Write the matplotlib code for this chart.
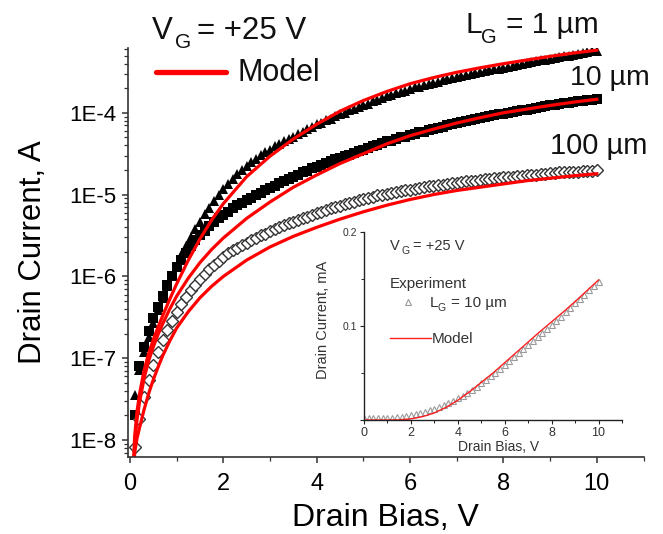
import numpy as np
import matplotlib
matplotlib.use("Agg")
import matplotlib.pyplot as plt
from matplotlib.lines import Line2D
from matplotlib.ticker import FixedLocator, LogLocator, NullFormatter, FuncFormatter, MultipleLocator

plt.rcParams['font.family'] = ['Liberation Sans', 'DejaVu Sans']
plt.rcParams['mathtext.default'] = 'regular'

# drain bias grid of the measured points, V
bias = np.round(np.arange(1, 101) * 0.1, 1)

# measured drain current, log10(A), V_G = +25 V
log_i_1um = [-7.45, -7.15, -6.93, -6.74, -6.57, -6.41, -6.26, -6.12, -5.99, -5.86,
             -5.74, -5.63, -5.52, -5.42, -5.33, -5.24, -5.16, -5.08, -5.00, -4.93,
             -4.87, -4.81, -4.75, -4.70, -4.65, -4.60, -4.56, -4.52, -4.48, -4.45,
             -4.41, -4.38, -4.35, -4.32, -4.29, -4.26, -4.23, -4.20, -4.17, -4.14,
             -4.12, -4.09, -4.07, -4.04, -4.02, -4.00, -3.97, -3.95, -3.93, -3.91,
             -3.89, -3.86, -3.84, -3.82, -3.80, -3.78, -3.76, -3.75, -3.73, -3.71,
             -3.69, -3.68, -3.66, -3.65, -3.63, -3.62, -3.60, -3.59, -3.57, -3.56,
             -3.55, -3.54, -3.52, -3.51, -3.50, -3.49, -3.48, -3.47, -3.46, -3.45,
             -3.44, -3.43, -3.41, -3.40, -3.39, -3.38, -3.37, -3.36, -3.35, -3.34,
             -3.33, -3.32, -3.31, -3.30, -3.29, -3.28, -3.27, -3.26, -3.25, -3.24]

log_i_10um = [-7.70, -7.10, -6.86, -6.67, -6.51, -6.37, -6.24, -6.11, -5.99, -5.89,
              -5.80, -5.71, -5.63, -5.56, -5.50, -5.44, -5.39, -5.34, -5.29, -5.25,
              -5.21, -5.17, -5.13, -5.10, -5.07, -5.04, -5.01, -4.98, -4.95, -4.92,
              -4.89, -4.86, -4.83, -4.81, -4.78, -4.76, -4.73, -4.71, -4.68, -4.66,
              -4.64, -4.61, -4.59, -4.57, -4.55, -4.53, -4.51, -4.49, -4.47, -4.45,
              -4.43, -4.41, -4.39, -4.37, -4.35, -4.34, -4.32, -4.30, -4.29, -4.27,
              -4.26, -4.24, -4.23, -4.21, -4.20, -4.18, -4.17, -4.15, -4.14, -4.13,
              -4.11, -4.10, -4.09, -4.08, -4.06, -4.05, -4.04, -4.03, -4.02, -4.01,
              -4.00, -3.99, -3.98, -3.97, -3.96, -3.95, -3.94, -3.93, -3.92, -3.91,
              -3.90, -3.89, -3.88, -3.875, -3.87, -3.86, -3.85, -3.845, -3.84, -3.835]

log_i_100um = [-8.09, -7.74, -7.48, -7.27, -7.08, -6.92, -6.78, -6.65, -6.54, -6.44,
               -6.34, -6.25, -6.17, -6.10, -6.03, -5.97, -5.91, -5.86, -5.81, -5.76,
               -5.72, -5.68, -5.65, -5.62, -5.59, -5.56, -5.53, -5.50, -5.48, -5.45,
               -5.42, -5.40, -5.37, -5.35, -5.33, -5.31, -5.29, -5.27, -5.25, -5.23,
               -5.21, -5.19, -5.17, -5.15, -5.14, -5.12, -5.10, -5.09, -5.07, -5.06,
               -5.04, -5.03, -5.01, -5.00, -4.99, -4.98, -4.97, -4.96, -4.95, -4.94,
               -4.93, -4.92, -4.91, -4.90, -4.89, -4.885, -4.88, -4.87, -4.86, -4.855,
               -4.85, -4.84, -4.835, -4.83, -4.82, -4.815, -4.81, -4.80, -4.795, -4.79,
               -4.785, -4.78, -4.775, -4.77, -4.765, -4.76, -4.755, -4.75, -4.745, -4.74,
               -4.735, -4.73, -4.73, -4.725, -4.72, -4.72, -4.715, -4.71, -4.71, -4.705]

# model curves, log10(A)
model_bias = [0.05, 0.1, 0.15, 0.2, 0.3, 0.4, 0.5, 0.6, 0.7, 0.85, 1.0, 1.25, 1.5, 1.75,
              2.0, 2.5, 3.0, 3.5, 4.0, 4.5, 5.0, 5.5, 6.0, 6.5, 7.0, 7.5, 8.0, 8.5, 9.0,
              9.5, 10.0]
model_1um = [-8.6, -7.95, -7.65, -7.45, -7.15, -6.94, -6.77, -6.62, -6.48, -6.28, -6.09,
             -5.80, -5.54, -5.31, -5.11, -4.78, -4.53, -4.32, -4.14, -3.98, -3.85, -3.74,
             -3.645, -3.57, -3.505, -3.45, -3.40, -3.355, -3.31, -3.27, -3.235]
model_10um = [-8.7, -8.05, -7.75, -7.55, -7.25, -7.03, -6.86, -6.71, -6.58, -6.40, -6.24,
              -6.02, -5.83, -5.67, -5.53, -5.29, -5.09, -4.91, -4.76, -4.62, -4.50, -4.38,
              -4.28, -4.20, -4.125, -4.06, -4.00, -3.955, -3.91, -3.87, -3.835]
model_100um = [-8.9, -8.15, -7.98, -7.86, -7.63, -7.43, -7.26, -7.11, -6.97, -6.79, -6.63,
               -6.43, -6.26, -6.12, -6.00, -5.80, -5.64, -5.51, -5.40, -5.30, -5.21, -5.13,
               -5.06, -5.00, -4.95, -4.91, -4.87, -4.83, -4.80, -4.77, -4.745]

# inset: linear scale, L_G = 10 um, current in mA
inset_bias = np.round(np.arange(51) * 0.2, 1)
inset_exp = [0.0018, 0.0018, 0.0019, 0.0020, 0.0021, 0.0023, 0.0026, 0.0030, 0.0035, 0.0042,
             0.0050, 0.0060, 0.0072, 0.0086, 0.0103, 0.0120, 0.0140, 0.0160, 0.0182, 0.0205,
             0.0230, 0.0260, 0.0291, 0.0323, 0.0356, 0.0390, 0.0427, 0.0464, 0.0502, 0.0543,
             0.0585, 0.0627, 0.0670, 0.0713, 0.0756, 0.0800, 0.0842, 0.0884, 0.0926, 0.0968,
             0.1010, 0.1055, 0.1100, 0.1146, 0.1193, 0.1240, 0.1286, 0.1332, 0.1378, 0.1424,
             0.1470]
inset_model_bias = [0, 1.0, 1.5, 2.0, 2.5, 3.0, 3.5, 4.0, 4.5, 5.0, 5.5, 6.0, 6.5, 7.0,
                    7.5, 8.0, 8.5, 9.0, 9.5, 10.0]
inset_model = [0, 0, 0.0002, 0.0012, 0.0036, 0.0075, 0.0135, 0.021, 0.030, 0.040, 0.050,
               0.061, 0.072, 0.083, 0.094, 0.1045, 0.115, 0.126, 0.1375, 0.149]

W, H = 663, 534
fig = plt.figure(figsize=(W / 100, H / 100), dpi=100)


def fx(px):
    return px / W


def fy(py):
    return 1 - py / H


def label(x, y, txt, size, color='#111111'):
    fig.text(fx(x), fy(y), txt, fontsize=size, va='baseline', color=color)


ax = fig.add_axes([0.1926, 0.1442, 0.778, 0.766])

ax.plot(bias, 10 ** np.array(log_i_1um), '^', ms=7, color='black', mew=0)
ax.plot(bias, 10 ** np.array(log_i_10um), 's', ms=6.5, color='black', mew=0)
ax.plot(bias, 10 ** np.array(log_i_100um), 'D', ms=6.5, mfc='white', mec='#333333', mew=1)
for m in (model_1um, model_10um, model_100um):
    ax.plot(model_bias, 10 ** np.array(m), '-', color='#ff0000', lw=2.3)

ax.set_yscale('log')
ax.set_xlim(-0.05, 11)
ax.set_ylim(6.2e-9, 6.2e-4)
for s in ('top', 'right'):
    ax.spines[s].set_visible(False)
for s in ('left', 'bottom'):
    ax.spines[s].set_linewidth(1.2)
    ax.spines[s].set_color('#333333')

ax.yaxis.set_major_locator(FixedLocator([1e-8, 1e-7, 1e-6, 1e-5, 1e-4]))
ax.yaxis.set_major_formatter(FuncFormatter(lambda v, p: '1E%d' % round(np.log10(v))))
ax.yaxis.set_minor_locator(LogLocator(base=10, subs=np.arange(2, 10)))
ax.yaxis.set_minor_formatter(NullFormatter())
ax.xaxis.set_major_locator(FixedLocator([0, 2, 4, 6, 8, 10]))
ax.xaxis.set_minor_locator(FixedLocator([1, 3, 5, 7, 9, 11]))
ax.tick_params(which='major', direction='out', length=4.5, width=1.1, color='#333333')
ax.tick_params(which='minor', direction='out', length=2.8, width=0.9, color='#333333')
ax.tick_params(axis='y', which='major', labelsize=16, pad=4)
ax.tick_params(axis='x', which='major', labelsize=17, pad=7)

ax.set_xlabel('Drain Bias, V', fontsize=23, va='top')
ax.xaxis.set_label_coords(0.5, -0.112)
ax.set_ylabel('Drain Current, A', fontsize=22.5)
ax.yaxis.set_label_coords(-0.155, 0.5)

# annotations, subscripts set as separate lowered pieces
label(152, 39, 'V', 22.5)
label(175, 48, 'G', 15)
label(197, 39, '= +25 V', 22.5)
fig.add_artist(Line2D([fx(156), fx(226)], [fy(72), fy(72)], color='#ff0000', lw=3.8,
                      solid_capstyle='round'))
label(238, 81, 'Model', 22)
label(466, 33, 'L', 21.5)
label(481, 43, 'G', 14.5)
label(506, 33, '= 1 µm', 21.5)
label(570, 85, '10 µm', 20.5)
label(550, 154, '100 µm', 21)

# inset, linear scale
ins = fig.add_axes([fx(364), fy(420), fx(622) - fx(364), fy(232) - fy(420)])
ins.patch.set_alpha(0)
ins.plot(inset_bias, inset_exp, '^', ms=4.5, mfc='none', mec='#9a9a9a', mew=0.8)
ins.plot(inset_model_bias, inset_model, '-', color='#ff2020', lw=1)
ins.set_xlim(0, 11)
ins.set_ylim(0, 0.2)
for s in ('top', 'right'):
    ins.spines[s].set_visible(False)
for s in ('left', 'bottom'):
    ins.spines[s].set_linewidth(1)
    ins.spines[s].set_color('#222222')
ins.xaxis.set_major_locator(FixedLocator([0, 2, 4, 6, 8, 10]))
ins.xaxis.set_minor_locator(MultipleLocator(1))
ins.yaxis.set_major_locator(FixedLocator([0, 0.1, 0.2]))
ins.yaxis.set_major_formatter(FuncFormatter(lambda v, p: '' if v == 0 else '%.1f' % v))
ins.yaxis.set_minor_locator(FixedLocator([0.05, 0.15]))
ins.tick_params(which='major', direction='out', length=3, width=0.8, color='#222222',
                labelcolor='#333333')
ins.tick_params(which='minor', direction='out', length=2, width=0.7, color='#222222')
ins.tick_params(axis='x', labelsize=9, pad=2)
ins.tick_params(axis='y', labelsize=7.5, pad=2)
ins.set_xlabel('Drain Bias, V', fontsize=10, color='#333333', va='top')
ins.xaxis.set_label_coords(0.52, -0.105)
ins.set_ylabel('Drain Current, mA', fontsize=10.5, color='#333333')
ins.yaxis.set_label_coords(-0.13, 0.53)

grey = '#333333'
label(390, 250, 'V', 10.5, grey)
label(401, 254, 'G', 7.5, grey)
label(413, 250, '= +25 V', 10.5, grey)
label(390, 288, 'Experiment', 11, grey)
fig.add_artist(Line2D([fx(408)], [fy(302)], marker='^', ms=4.5, mfc='none', mec='#9a9a9a',
                      mew=0.8, ls='none'))
label(430, 307, 'L', 11, grey)
label(437.5, 311, 'G', 7.5, grey)
label(451, 307, '= 10 µm', 11, grey)
fig.add_artist(Line2D([fx(390), fx(431)], [fy(338), fy(338)], color='#ff2020', lw=1))
label(432, 343, 'Model', 11, grey)

fig.savefig('out.png', dpi=100)
